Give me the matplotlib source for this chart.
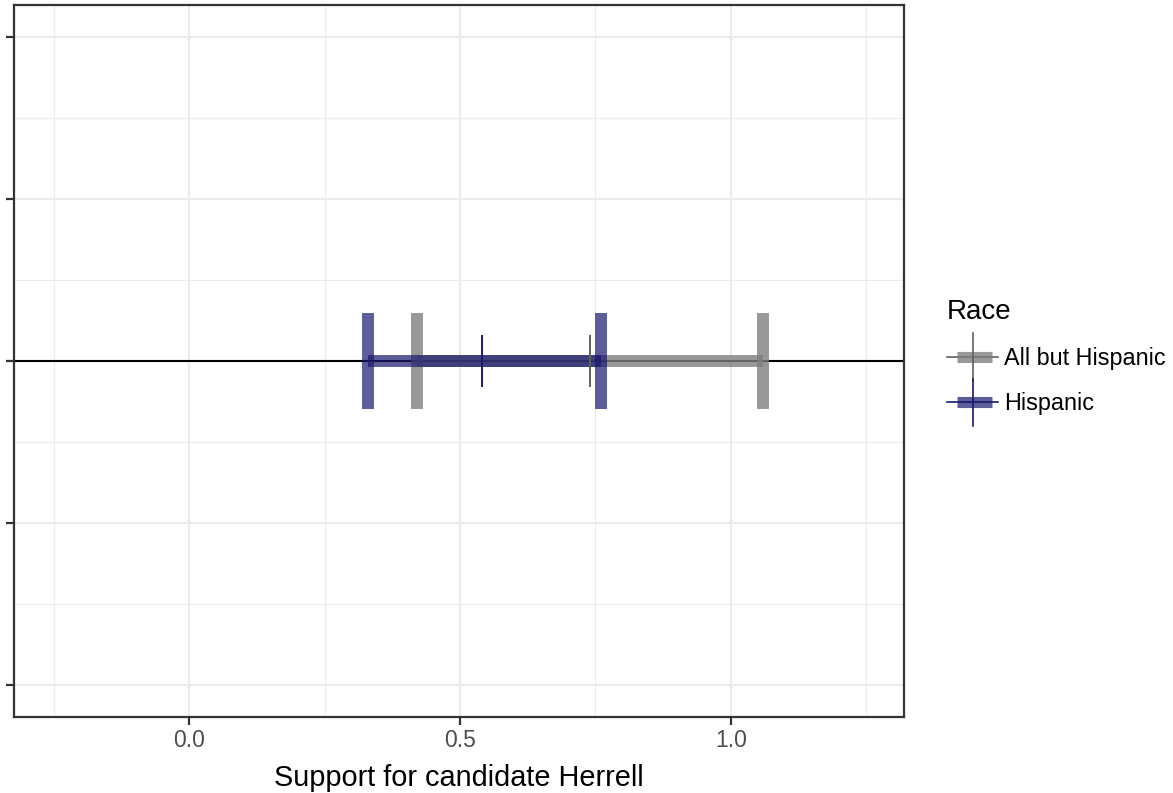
import matplotlib
matplotlib.use("Agg")
import matplotlib.pyplot as plt
from matplotlib.lines import Line2D

# estimates and intervals
groups = ["All but Hispanic", "Hispanic"]
est = [0.74, 0.54]
lo = [0.42, 0.33]
hi = [1.06, 0.76]
bar_colors = ["#7f7f7f", "#191970"]
bar_alpha = [0.8, 0.7]
pt_colors = ["#606060", "#191970"]

xticks = [0.0, 0.5, 1.0]
xtick_labels = ["0.0", "0.5", "1.0"]

plt.rcParams["font.family"] = "Liberation Sans"


class KeyHandler:
    # ggplot-like key: thin line, shorter thick bar, tall vertical tick
    def legend_artist(self, legend, orig_handle, fontsize, handlebox):
        thin_c, bar_c, a = orig_handle
        x0, y0 = -handlebox.xdescent, -handlebox.ydescent
        w, h = handlebox.width, handlebox.height
        yc = y0 + h / 2
        tr = handlebox.get_transform()
        arts = [
            Line2D([x0, x0 + w], [yc, yc], color=thin_c, lw=1.2, transform=tr),
            Line2D([x0 + 0.19 * w, x0 + 0.87 * w], [yc, yc], color=bar_c,
                   alpha=a, lw=8, solid_capstyle="butt", transform=tr),
            Line2D([x0 + 0.5 * w, x0 + 0.5 * w], [yc - 17, yc + 17],
                   color=thin_c, lw=1.2, transform=tr),
        ]
        for art in arts:
            handlebox.add_artist(art)
        return arts[1]


fig = plt.figure(figsize=(11.73, 7.93), dpi=100)
ax = fig.add_axes([14 / 1173, 1 - 717 / 793, 890 / 1173, 712 / 793])

ax.set_xlim(-0.324, 1.320)
ax.set_ylim(-2.198, 2.198)
ax.set_xticks(xticks)
ax.set_xticklabels(xtick_labels)
ax.set_xticks([-0.25, 0.25, 0.75, 1.25], minor=True)
ax.set_yticks([-2, -1, 0, 1, 2])
ax.set_yticklabels([])
ax.set_yticks([-1.5, -0.5, 0.5, 1.5], minor=True)
ax.grid(True, which="major", color="#ebebeb", lw=1.6)
ax.grid(True, which="minor", color="#ebebeb", lw=0.8)
ax.set_axisbelow(True)
ax.tick_params(which="major", length=5.5, width=1.6, color="#333333",
               labelsize=16.5, labelcolor="#4d4d4d", pad=3)
ax.tick_params(which="minor", length=0)
for s in ax.spines.values():
    s.set_color("#333333")
    s.set_linewidth(1.6)

ax.axhline(0, color="black", lw=1.5, zorder=2)

for i, g in enumerate(groups):
    c, a = bar_colors[i], bar_alpha[i]
    ax.hlines(0, lo[i], hi[i], color=c, alpha=a, lw=8.6, zorder=3)
    ax.vlines([lo[i], hi[i]], -0.297, 0.297, color=c, alpha=a, lw=8.6, zorder=3)
    ax.vlines(est[i], -0.16, 0.16, color=pt_colors[i], lw=1.4, zorder=4)

ax.set_xlabel("Support for candidate Herrell", fontsize=20.8, labelpad=9)

handles = [(pt_colors[i], bar_colors[i], bar_alpha[i]) for i in range(len(groups))]
leg = fig.legend(handles, groups, title="Race", loc="upper left",
                 bbox_to_anchor=(947 / 1173, 1 - 299 / 793), frameon=False,
                 fontsize=16.8, title_fontsize=20, handlelength=2.2,
                 handleheight=0.7, handletextpad=0.25, labelspacing=0.95,
                 borderpad=0, borderaxespad=0,
                 handler_map={tuple: KeyHandler()})
leg._legend_box.align = "left"

fig.savefig("out.png", dpi=100)
